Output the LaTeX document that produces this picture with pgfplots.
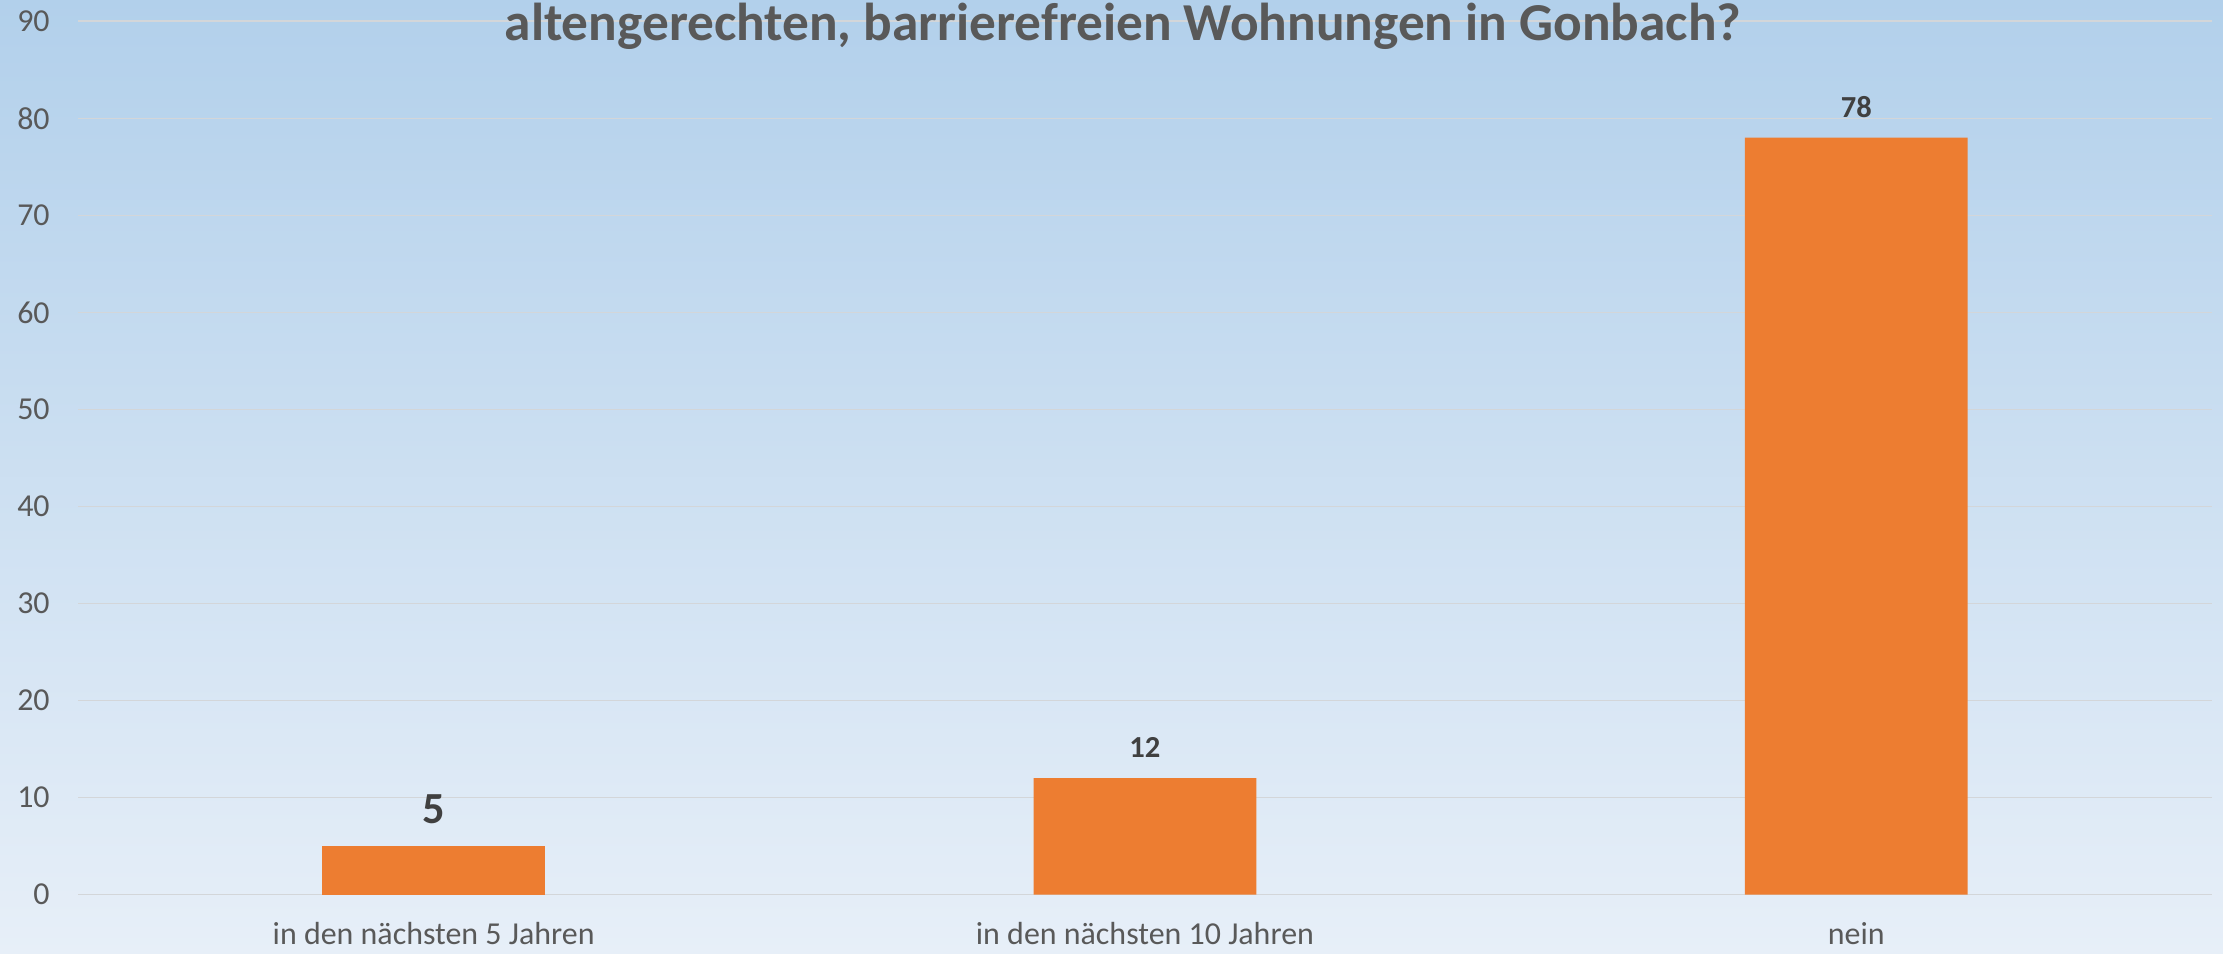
\documentclass[border=0pt]{standalone}
\usepackage{pgfplots}
\pgfplotsset{compat=1.18}
\usepackage{fontspec}
\setmainfont{Carlito}
\definecolor{bgtop}{HTML}{B2D0EB}
\definecolor{bgbot}{HTML}{E7EFF8}
\definecolor{barc}{HTML}{ED7D31}
\definecolor{gridc}{HTML}{D3D6D9}
\definecolor{tickc}{HTML}{595959}
\definecolor{lblc}{HTML}{404040}
\begin{document}
\begin{tikzpicture}[x=0.36pt,y=0.36pt]
\shade[top color=bgtop, bottom color=bgbot] (0,0) rectangle (2223,953);
\useasboundingbox (0,0) rectangle (2223,953);
\begin{axis}[
  at={(28.08pt,21.02pt)}, anchor=south west,
  scale only axis, width=768.2pt, height=314.4pt,
  xmin=-0.5, xmax=2.5, ymin=0, ymax=90,
  ytick={0,10,...,90},
  xtick={0,1,2},
  xticklabels={in den nächsten 5 Jahren, in den nächsten 10 Jahren, nein},
  axis line style={draw=none},
  major tick length=0pt,
  ymajorgrids,
  grid style={color=gridc, line width=0.6pt},
  tick label style={font=\fontsize{11.5}{13}\selectfont, text=tickc},
  yticklabel style={inner sep=0pt, xshift=-10pt},
  xticklabel style={anchor=base, inner sep=0pt, yshift=-18pt},
  /pgf/number format/assume math mode=true,
  ybar, bar width=0.313,
  clip=false,
]
\addplot[fill=barc, draw=none, bar shift=0pt, nodes near coords,
  nodes near coords style={font=\bfseries\fontsize{16}{18}\selectfont, text=lblc, anchor=base, inner sep=0pt, yshift=8pt}]
  coordinates {(0,5)};
\addplot[fill=barc, draw=none, bar shift=0pt, nodes near coords,
  nodes near coords style={font=\bfseries\fontsize{11}{13}\selectfont, text=lblc, anchor=base, inner sep=0pt, yshift=7.3pt}]
  coordinates {(1,12) (2,78)};
\end{axis}
\node[font=\bfseries\fontsize{19.2}{21}\selectfont, text=tickc, anchor=base] at (1123,912) {altengerechten, barrierefreien Wohnungen in Gonbach?};
\end{tikzpicture}
\end{document}
